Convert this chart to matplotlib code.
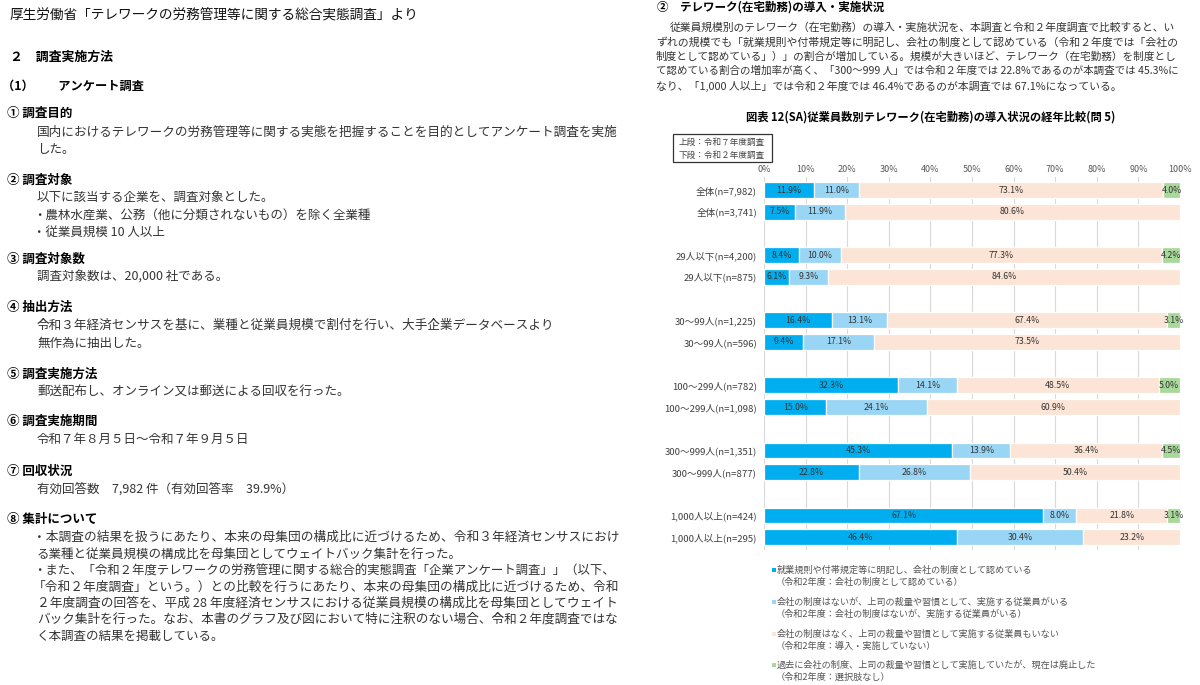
import matplotlib
matplotlib.use("Agg")
import matplotlib.pyplot as plt
from matplotlib.patches import Rectangle

plt.rcParams['font.family'] = ['Noto Sans CJK JP', 'DejaVu Sans']

W, H = 1200, 685

# ---------------- data ----------------
series_names = [
    "就業規則や付帯規定等に明記し、会社の制度として認めている",
    "会社の制度はないが、上司の裁量や習慣として、実施する従業員がいる",
    "会社の制度はなく、上司の裁量や習慣として実施する従業員もいない",
    "過去に会社の制度、上司の裁量や習慣として実施していたが、現在は廃止した",
]
series_sub = [
    "（令和2年度：会社の制度として認めている）",
    "（令和2年度：会社の制度はないが、実施する従業員がいる）",
    "（令和2年度：導入・実施していない）",
    "（令和2年度：選択肢なし）",
]
colors = ['#00AEEF', '#99D5F4', '#FCE4D6', '#A9D99A']

labels_r7 = ["全体(n=7,982)", "29人以下(n=4,200)", "30～99人(n=1,225)",
             "100～299人(n=782)", "300～999人(n=1,351)", "1,000人以上(n=424)"]
labels_r2 = ["全体(n=3,741)", "29人以下(n=875)", "30～99人(n=596)",
             "100～299人(n=1,098)", "300～999人(n=877)", "1,000人以上(n=295)"]

r7_s1 = [11.9, 8.4, 16.4, 32.3, 45.3, 67.1]
r7_s2 = [11.0, 10.0, 13.1, 14.1, 13.9, 8.0]
r7_s3 = [73.1, 77.3, 67.4, 48.5, 36.4, 21.8]
r7_s4 = [4.0, 4.2, 3.1, 5.0, 4.5, 3.1]

r2_s1 = [7.5, 6.1, 9.4, 15.0, 22.8, 46.4]
r2_s2 = [11.9, 9.3, 17.1, 24.1, 26.8, 30.4]
r2_s3 = [80.6, 84.6, 73.5, 60.9, 50.4, 23.2]
r2_s4 = [0.0, 0.0, 0.0, 0.0, 0.0, 0.0]

xticks = [0, 10, 20, 30, 40, 50, 60, 70, 80, 90, 100]
xtick_labels = [f"{v}%" for v in xticks]

# ---------------- figure ----------------
fig = plt.figure(figsize=(12, 6.85), dpi=100)
fig.patch.set_facecolor('white')
renderer = fig.canvas.get_renderer()


def txt(x, y, s, size, bold=False, color='#222222', ha='left', width=None):
    t = fig.text(x / W, 1 - y / H, s, fontsize=size,
                 fontweight='bold' if bold else 'normal',
                 color=color, ha=ha, va='center')
    if width is not None:
        w = t.get_window_extent(renderer=renderer).width
        if w > 0:
            t.set_fontsize(size * width / w)
    return t


# ---------------- left column ----------------
txt(10, 15, "厚生労働省「テレワークの労務管理等に関する総合実態調査」より", 10, color='#111111', width=410)
txt(10, 57, "２　調査実施方法", 9.3, bold=True, color='#000000')
txt(2, 86, "（1）　　アンケート調査", 8.8, bold=True, color='#000000')

body = '#333333'
bx = 37
rw = 580
txt(7, 113, "① 調査目的", 9, bold=True, color='#000000')
txt(bx, 132, "国内におけるテレワークの労務管理等に関する実態を把握することを目的としてアンケート調査を実施", 9, color=body, width=rw)
txt(bx, 150, "した。", 9, color=body)

txt(7, 180, "② 調査対象", 9, bold=True, color='#000000')
txt(bx, 197, "以下に該当する企業を、調査対象とした。", 9, color=body)
txt(bx - 4, 215, "・農林水産業、公務（他に分類されないもの）を除く全業種", 9, color=body)
txt(bx - 4, 232, "・従業員規模 10 人以上", 9, color=body)

txt(7, 259, "③ 調査対象数", 9, bold=True, color='#000000')
txt(bx, 276, "調査対象数は、20,000 社である。", 9, color=body)

txt(7, 307, "④ 抽出方法", 9, bold=True, color='#000000')
txt(bx, 325, "令和３年経済センサスを基に、業種と従業員規模で割付を行い、大手企業データベースより", 9, color=body, width=516)
txt(bx, 343, "無作為に抽出した。", 9, color=body)

txt(7, 374, "⑤ 調査実施方法", 9, bold=True, color='#000000')
txt(bx, 392, "郵送配布し、オンライン又は郵送による回収を行った。", 9, color=body)

txt(7, 421, "⑥ 調査実施期間", 9, bold=True, color='#000000')
txt(bx, 439, "令和７年８月５日～令和７年９月５日", 9, color=body)

txt(7, 471, "⑦ 回収状況", 9, bold=True, color='#000000')
txt(bx, 489, "有効回答数　7,982 件（有効回答率　39.9%）", 9, color=body)

txt(7, 519, "⑧ 集計について", 9, bold=True, color='#000000')
txt(bx - 4, 537, "・本調査の結果を扱うにあたり、本来の母集団の構成比に近づけるため、令和３年経済センサスにおけ", 9, color=body, width=584)
txt(bx, 554, "る業種と従業員規模の構成比を母集団としてウェイトバック集計を行った。", 9, color=body)
txt(bx - 4, 571, "・また、「令和２年度テレワークの労務管理に関する総合的実態調査「企業アンケート調査」」（以下、", 9, color=body, width=584)
txt(bx - 4, 587, "「令和２年度調査」という。）との比較を行うにあたり、本来の母集団の構成比に近づけるため、令和", 9, color=body, width=584)
txt(bx, 603, "２年度調査の回答を、平成 28 年度経済センサスにおける従業員規模の構成比を母集団としてウェイト", 9, color=body, width=580)
txt(bx, 619, "バック集計を行った。なお、本書のグラフ及び図において特に注釈のない場合、令和２年度調査ではな", 9, color=body, width=580)
txt(bx, 636, "く本調査の結果を掲載している。", 9, color=body)

# ---------------- right column text ----------------
txt(657, 7, "②　テレワーク(在宅勤務)の導入・実施状況", 8.3, bold=True, color='#000000')
rx = 656
txt(rx + 14, 27, "従業員規模別のテレワーク（在宅勤務）の導入・実施状況を、本調査と令和２年度調査で比較すると、い", 7.8, color=body, width=1180 - rx - 14)
txt(rx, 42, "ずれの規模でも「就業規則や付帯規定等に明記し、会社の制度として認めている（令和２年度では「会社の", 7.8, color=body, width=1180 - rx)
txt(rx, 57, "制度として認めている」）」の割合が増加している。規模が大きいほど、テレワーク（在宅勤務）を制度とし", 7.8, color=body, width=1180 - rx)
txt(rx, 71, "て認めている割合の増加率が高く、「300～999 人」では令和２年度では 22.8%であるのが本調査では 45.3%に", 7.8, color=body, width=1180 - rx)
txt(rx, 86, "なり、「1,000 人以上」では令和２年度では 46.4%であるのが本調査では 67.1%になっている。", 7.8, color=body)

txt(746, 117, "図表 12(SA)従業員数別テレワーク(在宅勤務)の導入状況の経年比較(問 5)", 8, bold=True, color='#000000', width=370)

# note box
fig.patches.append(Rectangle((673 / W, 1 - 162 / H), (772 - 673) / W, (162 - 134) / H,
                             transform=fig.transFigure, fill=False,
                             edgecolor='#333333', linewidth=0.9))
txt(679, 142, "上段：令和７年度調査", 6.2, color='#444444')
txt(679, 155, "下段：令和２年度調査", 6.2, color='#444444')

# ---------------- chart ----------------
unit = 21.7
y0 = 190
ax_top, ax_bot = y0 - 0.6 * unit, y0 + 16.6 * unit
x_left, x_right = 764, 1180
ax = fig.add_axes([x_left / W, 1 - ax_bot / H, (x_right - x_left) / W, (ax_bot - ax_top) / H])
ax.set_xlim(0, 100)
ax.set_ylim(16.6, -0.6)

r7 = [r7_s1, r7_s2, r7_s3, r7_s4]
r2 = [r2_s1, r2_s2, r2_s3, r2_s4]
positions, ylabels = [], []
for g in range(len(labels_r7)):
    for k, (data, lab) in enumerate(((r7, labels_r7[g]), (r2, labels_r2[g]))):
        p = 3 * g + k
        positions.append(p)
        ylabels.append(lab)
        left = 0.0
        for s in range(4):
            v = data[s][g]
            if v > 0:
                ax.barh(p, v, left=left, height=0.72, color=colors[s],
                        edgecolor='white', linewidth=0.9, zorder=2)
                ax.text(left + v / 2, p, f"{v:.1f}%", ha='center', va='center',
                        fontsize=6.3, color='#333333', zorder=3)
            left += v

for xv in xticks:
    ax.axvline(xv, color='#D9D9D9', linewidth=0.8, zorder=1)

ax.xaxis.tick_top()
ax.set_xticks(xticks)
ax.set_xticklabels(xtick_labels, fontsize=6.5, color='#595959')
ax.set_yticks(positions)
ax.set_yticklabels(ylabels, fontsize=6.9, color='#404040')
ax.tick_params(axis='both', length=0)
ax.tick_params(axis='x', pad=2)
ax.tick_params(axis='y', pad=5)
for sp in ax.spines.values():
    sp.set_visible(False)

# ---------------- legend ----------------
leg_y = [570, 602, 634, 665]
for s in range(4):
    fig.patches.append(Rectangle((772 / W, 1 - (leg_y[s] + 2) / H), 4 / W, 4 / H,
                                 transform=fig.transFigure, facecolor=colors[s],
                                 edgecolor='none'))
    txt(777, leg_y[s], series_names[s], 6.6, color='#555555')
    txt(776, leg_y[s] + 12.5, series_sub[s], 6.6, color='#555555')

fig.savefig("out.png", dpi=100, facecolor='white')
